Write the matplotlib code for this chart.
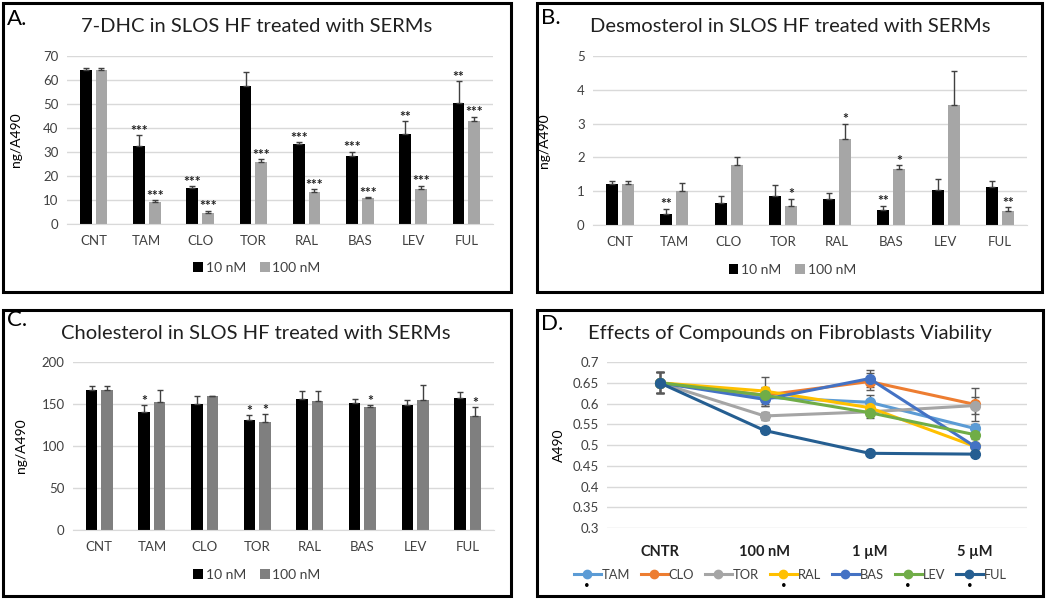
import matplotlib
matplotlib.use("Agg")
import matplotlib.pyplot as plt
import matplotlib.patches as mpatches
from matplotlib.lines import Line2D
import numpy as np

plt.rcParams['font.family'] = ['Lato', 'DejaVu Sans']

# -------------------------
# Data
# -------------------------
drugs = ["CNT", "TAM", "CLO", "TOR", "RAL", "BAS", "LEV", "FUL"]

# 7-DHC
dhc_10 = [64, 32.5, 15, 57.5, 33.5, 28.5, 37.5, 50.5]
dhc_10_err = [1, 4.5, 0.7, 6, 0.5, 1.7, 5.3, 9]
dhc_100 = [64, 9.2, 4.5, 26, 13.5, 10.8, 14.5, 43]
dhc_100_err = [1, 0.6, 1, 1, 1, 0.3, 1.5, 1.7]
dhc_10_sig = ["", "***", "***", "", "***", "***", "**", "**"]
dhc_100_sig = ["", "***", "***", "***", "***", "***", "***", "***"]

# Desmosterol
des_10 = [1.2, 0.33, 0.65, 0.85, 0.78, 0.45, 1.03, 1.13]
des_10_err = [0.1, 0.15, 0.21, 0.32, 0.17, 0.12, 0.32, 0.17]
des_100 = [1.2, 1.0, 1.78, 0.56, 2.53, 1.65, 3.55, 0.4]
des_100_err = [0.1, 0.23, 0.22, 0.22, 0.47, 0.13, 1.02, 0.12]
des_10_sig = ["", "**", "", "", "", "**", "", ""]
des_100_sig = ["", "", "", "*", "*", "*", "", "**"]

# Cholesterol
chol_10 = [167, 141, 150, 131, 156, 151, 149, 157]
chol_10_err = [4, 8, 9, 6, 9, 5, 6, 7]
chol_100 = [167, 152, 159, 129, 154, 147, 155, 136]
chol_100_err = [4, 15, 1, 9, 12, 2, 18, 10]
chol_10_sig = ["", "*", "", "*", "", "", "", ""]
chol_100_sig = ["", "", "", "*", "", "*", "", "*"]

# Viability
doses = ["CNTR", "100 nM", "1 µM", "5 µM"]
via = {
    "TAM": [0.65, 0.615, 0.603, 0.54],
    "CLO": [0.65, 0.62, 0.653, 0.598],
    "TOR": [0.65, 0.57, 0.58, 0.595],
    "RAL": [0.65, 0.63, 0.59, 0.497],
    "BAS": [0.65, 0.61, 0.66, 0.497],
    "LEV": [0.65, 0.62, 0.578, 0.525],
    "FUL": [0.65, 0.535, 0.48, 0.478],
}
via_err = {
    "TAM": [0.025, 0.01, 0.017, 0.01],
    "CLO": [0.025, 0.02, 0.02, 0.04],
    "TOR": [0.025, 0.01, 0.01, 0.02],
    "RAL": [0.025, 0.035, 0.01, 0.005],
    "BAS": [0.025, 0.015, 0.02, 0.005],
    "LEV": [0.025, 0.01, 0.012, 0.01],
    "FUL": [0.025, 0.005, 0.004, 0.004],
}
via_colors = {"TAM": "#5B9BD5", "CLO": "#ED7D31", "TOR": "#A5A5A5", "RAL": "#FFC000",
              "BAS": "#4472C4", "LEV": "#70AD47", "FUL": "#255E91"}
via_sig = ["TAM", "RAL", "LEV", "FUL"]

# -------------------------
# Helpers
# -------------------------
W, H = 1050, 600
fig = plt.figure(figsize=(10.5, 6), dpi=100)


def px_axes(x0, y0, x1, y1):
    return fig.add_axes([x0 / W, 1 - y1 / H, (x1 - x0) / W, (y1 - y0) / H])


def px_box(x0, y0, x1, y1):
    fig.patches.append(mpatches.Rectangle((x0 / W, 1 - y1 / H), (x1 - x0) / W, (y1 - y0) / H,
                                          transform=fig.transFigure, fill=False,
                                          edgecolor="black", linewidth=2.2))


def style_axes(ax):
    for s in ["top", "right", "left"]:
        ax.spines[s].set_visible(False)
    ax.spines["bottom"].set_color("#d9d9d9")
    ax.yaxis.grid(True, color="#d9d9d9", linewidth=1)
    ax.set_axisbelow(True)
    ax.tick_params(length=0, labelsize=9.5, colors="#404040")
    ax.tick_params(axis="x", pad=8)
    ax.tick_params(axis="y", pad=6)


def bar_panel(ax, v10, e10, v100, e100, s10, s100, gray, ymax, step, sig_pad, leg_xy):
    x = np.arange(len(drugs))
    off, w = 0.147, 0.22
    ekw = dict(ecolor="#404040", elinewidth=1, capsize=2.5, capthick=1)
    ax.bar(x - off, v10, w, color="black", label="10 nM",
           yerr=[np.zeros(len(x)), e10], error_kw=ekw)
    ax.bar(x + off, v100, w, color=gray, label="100 nM",
           yerr=[np.zeros(len(x)), e100], error_kw=ekw)
    for i in range(len(x)):
        if s10[i]:
            ax.text(x[i] - off, v10[i] + e10[i] + sig_pad, s10[i], ha="center", va="bottom",
                    fontsize=10, fontweight="bold", color="#202020")
        if s100[i]:
            ax.text(x[i] + off, v100[i] + e100[i] + sig_pad, s100[i], ha="center", va="bottom",
                    fontsize=10, fontweight="bold", color="#202020")
    ax.set_xlim(-0.5, len(x) - 0.5)
    ax.set_ylim(0, ymax)
    ax.set_yticks(np.arange(0, ymax + step / 2, step))
    ax.set_xticks(x)
    ax.set_xticklabels(drugs)
    style_axes(ax)
    ax.set_ylabel("ng/A490", fontsize=10)
    leg = ax.legend(loc="center", bbox_to_anchor=leg_xy, ncol=2, frameon=False,
                    fontsize=10, handlelength=0.7, handleheight=0.7, handletextpad=0.2,
                    columnspacing=1.0)
    for t in leg.get_texts():
        t.set_color("#404040")


# -------------------------
# Panels
# -------------------------
axA = px_axes(67, 56, 493, 224)
bar_panel(axA, dhc_10, dhc_10_err, dhc_100, dhc_100_err, dhc_10_sig, dhc_100_sig,
          "#a6a6a6", 70, 10, -0.6, (0.446, -0.262))
axA.yaxis.set_label_coords(-0.105, 0.5)

axB = px_axes(593, 56, 1027, 225)
bar_panel(axB, des_10, des_10_err, des_100, des_100_err, des_10_sig, des_100_sig,
          "#a6a6a6", 5, 1, -0.05, (0.459, -0.266))
axB.yaxis.set_label_coords(-0.1, 0.5)

axC = px_axes(73, 362, 494, 530)
bar_panel(axC, chol_10, chol_10_err, chol_100, chol_100_err, chol_10_sig, chol_100_sig,
          "#7f7f7f", 200, 50, -2, (0.437, -0.268))
axC.yaxis.set_label_coords(-0.11, 0.5)

axD = px_axes(607, 362, 1027, 528)
xd = np.arange(len(doses))
for name, vals in via.items():
    axD.errorbar(xd, vals, yerr=via_err[name], color=via_colors[name], linewidth=2.2,
                 marker="o", markersize=7, ecolor="#595959", elinewidth=1, capsize=3)
axD.set_xlim(-0.5, len(doses) - 0.5)
axD.set_ylim(0.3, 0.7)
axD.set_yticks(np.arange(0.3, 0.701, 0.05))
axD.set_yticklabels(["0.3", "0.35", "0.4", "0.45", "0.5", "0.55", "0.6", "0.65", "0.7"])
axD.set_xticks(xd)
axD.set_xticklabels(doses, fontweight="bold")
style_axes(axD)
axD.spines["bottom"].set_visible(False)
axD.tick_params(axis="x", labelsize=10.5, pad=12, colors="#202020")
axD.set_ylabel("A490", fontsize=10)
axD.yaxis.set_label_coords(-0.1, 0.5)
handles = [Line2D([0], [0], color=via_colors[n], linewidth=2.2, marker="o", markersize=6)
           for n in via]
legD = axD.legend(handles, list(via), loc="center", bbox_to_anchor=(0.436, -0.283), ncol=7,
                  frameon=False, fontsize=9.3, handlelength=2.1, handletextpad=0.05,
                  columnspacing=0.85)
for t in legD.get_texts():
    t.set_color("#404040")

# titles and panel letters
titles = [("7-DHC in SLOS HF treated with SERMs", 257, 27),
          ("Desmosterol in SLOS HF treated with SERMs", 790, 27),
          ("Cholesterol in SLOS HF treated with SERMs", 256, 333),
          ("Effects of Compounds on Fibroblasts Viability", 790, 333)]
for txt, x, y in titles:
    fig.text(x / W, 1 - y / H, txt, ha="center", va="center", fontsize=14.5, color="#202020")

letters = [("A.", 7, 19), ("B.", 541, 18), ("C.", 7, 320), ("D.", 541, 324)]
for txt, x, y in letters:
    fig.text(x / W, 1 - y / H, txt, ha="left", va="center", fontsize=16, color="black")

px_box(3, 3, 511, 292)
px_box(537, 3, 1042, 292)
px_box(3, 310, 511, 596)
px_box(537, 310, 1043, 596)

# significance dots under legend entries of panel D
fig.canvas.draw()
renderer = fig.canvas.get_renderer()
for line, txt in zip(legD.get_lines(), legD.get_texts()):
    if txt.get_text() in via_sig:
        bb = line.get_window_extent(renderer)
        cx = (bb.x0 + bb.x1) / 2 / fig.bbox.width
        cy = (bb.y0 + bb.y1) / 2 / fig.bbox.height
        fig.text(cx, cy - 11 / H, "•", ha="center", va="center", fontsize=7, color="black")

fig.savefig("out.png", dpi=100)
